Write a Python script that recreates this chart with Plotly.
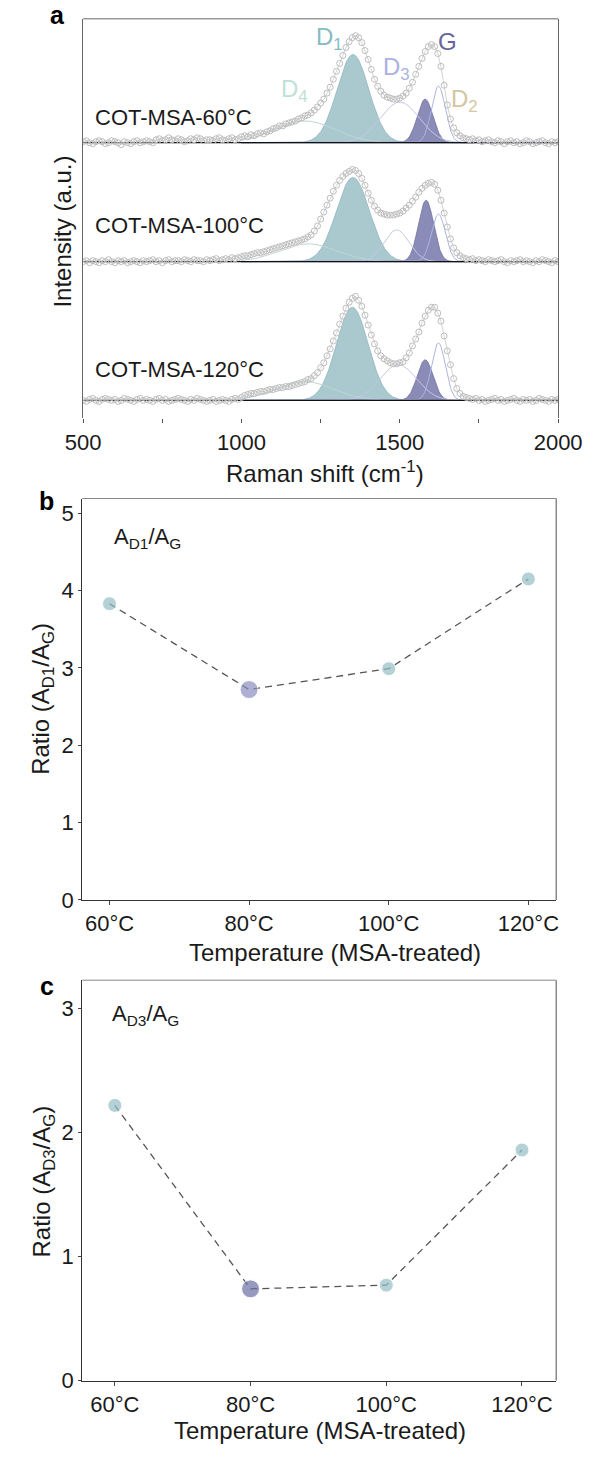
import numpy as np
import plotly.graph_objects as go

# ---------------- data ----------------
wavenumber = list(range(500, 2001, 10))

spec_60 = [1, 2, 0, -1, 1, 2, 1, -1, 0, 2,
           1, 0, -2, 1, 0, -1, 1, 2, 0, 1,
           2, 1, 0, 3, 4, 2, 3, 5, 3, 2,
           4, 3, 1, 2, 4, 3, 5, 4, 2, 3,
           3, 2, 4, 5, 3, 2, 4, 5, 3, 4,
           6, 7, 6, 8, 7, 9, 10, 9, 11, 12,
           14, 15, 17, 17, 19, 20, 21, 22, 24, 25,
           27, 28, 30, 33, 36, 40, 44, 50, 56, 64,
           72, 80, 88, 96, 102, 106, 108, 106, 101, 93,
           84, 74, 64, 57, 52, 48, 46, 45, 44, 44,
           45, 47, 50, 55, 61, 69, 77, 85, 92, 97,
           99, 97, 90, 77, 58, 38, 24, 15, 10, 7,
           5, 4, 3, 4, 2, 3, 1, 2, 3, 1,
           0, 2, 1, -1, 1, 2, 0, 1, -1, 0,
           2, 1, -1, 0, 1, 2, 0, -1, 1, 0,
           1]

spec_100 = [0, 1, -1, 1, 0, -1, 1, 0, 2, 0,
            -1, 1, 0, 1, -1, 0, 1, 0, -1, 1,
            0, 1, 2, 0, 1, -1, 1, 2, 0, 1,
            1, 0, 2, 1, 0, 2, 1, 1, 0, 2,
            1, 2, 3, 1, 2, 3, 2, 4, 3, 4,
            5, 6, 6, 7, 8, 9, 9, 10, 11, 12,
            13, 14, 15, 16, 17, 18, 19, 20, 21, 22,
            23, 25, 27, 31, 36, 43, 50, 57, 64, 71,
            77, 82, 86, 89, 91, 93, 92, 89, 84, 77,
            69, 62, 56, 52, 49, 48, 47, 47, 47, 48,
            49, 51, 54, 57, 61, 65, 70, 74, 77, 79,
            80, 78, 72, 62, 49, 35, 23, 14, 9, 6,
            4, 3, 2, 3, 1, 2, 1, 0, 2, 1,
            0, 1, 2, 0, -1, 1, 0, 1, 2, 0,
            1, 0, -1, 1, 0, 2, 1, 0, -1, 1,
            0]

spec_120 = [0, -1, 1, 2, 0, -1, 1, 2, 1, 0,
            1, -1, 0, 2, 1, 0, -1, 1, 2, 0,
            1, 0, -1, 1, 2, 0, 1, -1, 0, 1,
            2, 1, 0, -1, 1, 0, 2, 1, 0, -1,
            0, 1, -1, 0, 1, 0, -1, 1, 2, 1,
            3, 5, 6, 7, 7, 8, 9, 9, 10, 11,
            11, 12, 13, 13, 14, 14, 15, 16, 17, 18,
            19, 21, 22, 25, 28, 33, 38, 45, 52, 60,
            68, 77, 85, 93, 99, 103, 105, 101, 95, 86,
            76, 66, 57, 50, 45, 42, 40, 38, 37, 37,
            38, 39, 43, 48, 55, 62, 69, 78, 85, 91,
            94, 94, 88, 80, 65, 50, 36, 22, 12, 7,
            4, 3, 2, 1, 2, 0, 1, -1, 0, 1,
            2, 0, 1, -1, 0, 1, 2, 0, -1, 1,
            0, 1, -1, 0, 2, 1, 0, -1, 1, 0,
            1]

spectra = [spec_60, spec_100, spec_120]
sample_names = ["COT-MSA-60°C", "COT-MSA-100°C", "COT-MSA-120°C"]

# fitted Gaussian components: order D1, D2, D3, D4, G
components = ["D1", "D2", "D3", "D4", "G"]
fit_center = [[1352, 1622, 1500, 1200, 1580],
              [1352, 1622, 1490, 1210, 1583],
              [1350, 1622, 1495, 1200, 1580]]
fit_height = [[89, 57, 41, 22, 44],
              [85, 48, 32, 18, 62],
              [94, 58, 36, 19, 41]]
fit_sigma = [[50, 22, 62, 95, 25],
             [52, 22, 40, 90, 24],
             [50, 22, 58, 90, 25]]

temps = [60, 80, 100, 120]
temp_labels = ["60°C", "80°C", "100°C", "120°C"]
ratio_D1_G = [3.83, 2.72, 2.99, 4.15]
ratio_D3_G = [2.22, 0.74, 0.77, 1.86]

# ---------------- styling / layout helpers ----------------
W, H = 611, 1461
FONT = "Liberation Sans, Arial, sans-serif"


def px(x):
    return x / W


def py(y):
    return 1 - y / H


baselines = [278, 158, 18]          # vertical offsets of the stacked spectra (axis units)
c_D1_fill, c_D1_edge = "#a9c9cf", "#8fb6be"
c_G_fill, c_G_edge = "#8b8bb7", "#72729f"
line_cols = {"D2": "#aab5e2", "D3": "#c4c7e7", "D4": "#bfd5d4"}
teal = "#95bec6"

fig = go.Figure()

grid = np.arange(1000, 2001, 2)

for k, spec in enumerate(spectra):
    off = baselines[k]
    comp = {}
    for j, name in enumerate(components):
        comp[name] = fit_height[k][j] * np.exp(-(grid - fit_center[k][j]) ** 2 / (2 * fit_sigma[k][j] ** 2))
    for name, fc, ec in [("D1", c_D1_fill, c_D1_edge), ("G", c_G_fill, c_G_edge)]:
        xs = list(grid) + [grid[-1], grid[0]]
        ys = list(off + comp[name]) + [off, off]
        fig.add_trace(go.Scatter(x=xs, y=ys, mode="lines", fill="toself", fillcolor=fc,
                                 line=dict(color=ec, width=0.8), xaxis="x", yaxis="y",
                                 hoverinfo="skip"))
    for name in ["D4", "D3", "D2"]:
        fig.add_trace(go.Scatter(x=grid, y=off + comp[name], mode="lines",
                                 line=dict(color=line_cols[name], width=1),
                                 xaxis="x", yaxis="y", hoverinfo="skip"))
    fig.add_trace(go.Scatter(x=[500, 2000], y=[off, off], mode="lines",
                             line=dict(color="#111111", width=1.3), xaxis="x", yaxis="y"))
    fig.add_trace(go.Scatter(x=wavenumber, y=[off + v for v in spec], mode="lines+markers",
                             line=dict(color="#c8c8c8", width=0.8),
                             marker=dict(symbol="circle-open", size=6, color="#bdbdbd",
                                         line=dict(width=1)),
                             xaxis="x", yaxis="y"))

# panel b
fig.add_trace(go.Scatter(x=temps, y=ratio_D1_G, mode="lines",
                         line=dict(color="#555555", width=1.3, dash="7px,5px"),
                         xaxis="x2", yaxis="y2"))
fig.add_trace(go.Scatter(x=temps, y=ratio_D1_G, mode="markers",
                         marker=dict(size=[14, 18, 14, 14], color=[teal, "#8d90c1", teal, teal]),
                         xaxis="x2", yaxis="y2"))
# panel c
fig.add_trace(go.Scatter(x=temps, y=ratio_D3_G, mode="lines",
                         line=dict(color="#555555", width=1.3, dash="7px,5px"),
                         xaxis="x3", yaxis="y3"))
fig.add_trace(go.Scatter(x=temps, y=ratio_D3_G, mode="markers",
                         marker=dict(size=[14, 18, 14, 14], color=[teal, "#6c70a4", teal, teal]),
                         xaxis="x3", yaxis="y3"))

tickfont = dict(family=FONT, size=22, color="#1a1a1a")

fig.update_layout(
    width=W, height=H, margin=dict(l=0, r=0, t=0, b=0),
    paper_bgcolor="white", plot_bgcolor="white", showlegend=False,
    xaxis=dict(domain=[px(70), px(580)], range=[500, 2000], anchor="y",
               tickvals=[500, 750, 1000, 1250, 1500, 1750, 2000],
               ticktext=["500", "", "1000", "", "1500", "", "2000"],
               ticks="outside", ticklen=4, tickcolor="#555", showline=False,
               showgrid=False, zeroline=False, tickfont=tickfont),
    yaxis=dict(domain=[py(422), py(19)], range=[0, 403], anchor="x",
               showline=True, mirror=True, linecolor="#666", linewidth=1,
               showticklabels=False, ticks="", showgrid=False, zeroline=False),
    xaxis2=dict(domain=[px(69), px(578)], range=[56.1, 124.0], anchor="y2",
                tickvals=temps, ticktext=temp_labels, ticks="outside", ticklen=4,
                tickcolor="#444", showline=True, linecolor="#333", linewidth=1.2,
                showgrid=False, zeroline=False, tickfont=tickfont),
    yaxis2=dict(domain=[py(908), py(503)], range=[0, 5.19], anchor="x2",
                tickvals=[0, 1, 2, 3, 4, 5], ticks="outside", ticklen=3, tickcolor="#444",
                showline=True, linecolor="#333", linewidth=1.2,
                showgrid=False, zeroline=False, tickfont=tickfont),
    xaxis3=dict(domain=[px(69), px(578)], range=[55.2, 125.05], anchor="y3",
                tickvals=temps, ticktext=temp_labels, ticks="outside", ticklen=4,
                tickcolor="#444", showline=True, linecolor="#333", linewidth=1.2,
                showgrid=False, zeroline=False, tickfont=tickfont),
    yaxis3=dict(domain=[py(1393), py(989)], range=[0, 3.23], anchor="x3",
                tickvals=[0, 1, 2, 3], ticks="outside", ticklen=3, tickcolor="#444",
                showline=True, linecolor="#333", linewidth=1.2,
                showgrid=False, zeroline=False, tickfont=tickfont),
)

shapes = [
    dict(type="line", xref="x domain", yref="y domain", x0=0, x1=1, y0=1, y1=1,
         line=dict(color="#666", width=1)),
    dict(type="line", xref="x2 domain", yref="y2 domain", x0=0, x1=1, y0=1, y1=1,
         line=dict(color="#888", width=1)),
    dict(type="line", xref="x2 domain", yref="y2 domain", x0=1, x1=1, y0=0, y1=1,
         line=dict(color="#888", width=1.5)),
    dict(type="line", xref="x3 domain", yref="y3 domain", x0=0, x1=1, y0=1, y1=1,
         line=dict(color="#888", width=1)),
    dict(type="line", xref="x3 domain", yref="y3 domain", x0=1, x1=1, y0=0, y1=1,
         line=dict(color="#888", width=1.5)),
]
fig.update_layout(shapes=shapes)

ann = []


def text(x, y, s, size=22, color="#1a1a1a", xanchor="center", angle=0, bold=False):
    ann.append(dict(x=px(x), y=py(y), xref="paper", yref="paper", text=("<b>%s</b>" % s) if bold else s,
                    showarrow=False, xanchor=xanchor, yanchor="middle", textangle=angle,
                    font=dict(family=FONT, size=size, color=color)))


# panel letters
text(42, 15, "a", size=25, color="#000", bold=True)
text(31, 506, "b", size=25, color="#000", bold=True)
text(31, 995, "c", size=25, color="#000", bold=True)

# panel a labels
label_y = [119, 228, 373]
for k, name in enumerate(sample_names):
    text(80, label_y[k], name, size=22, xanchor="left")
text(334, 39, "D<sub>1</sub>", size=24, color="#86bcc2")
text(461, 42, "G", size=24, color="#66669a")
text(406, 69, "D<sub>3</sub>", size=24, color="#aab2e0")
text(297, 91, "D<sub>4</sub>", size=24, color="#bfe0d6")
text(479, 101, "D<sub>2</sub>", size=24, color="#d3c6a0")

# axis titles
text(48, 234, "Intensity (a.u.)", size=24, angle=-90)
text(330, 476, "Raman shift (cm<sup>-1</sup>)", size=24)
text(27, 705, "Ratio (A<sub>D1</sub>/A<sub>G</sub>)", size=24, angle=-90)
text(340, 961, "Temperature (MSA-treated)", size=24)
text(27, 1192, "Ratio (A<sub>D3</sub>/A<sub>G</sub>)", size=24, angle=-90)
text(324, 1443, "Temperature (MSA-treated)", size=24)

# in-panel ratio labels
text(101, 543, "A<sub>D1</sub>/A<sub>G</sub>", size=22, xanchor="left")
text(99, 1024, "A<sub>D3</sub>/A<sub>G</sub>", size=22, xanchor="left")

fig.update_layout(annotations=ann)

fig.write_html("out.html")
